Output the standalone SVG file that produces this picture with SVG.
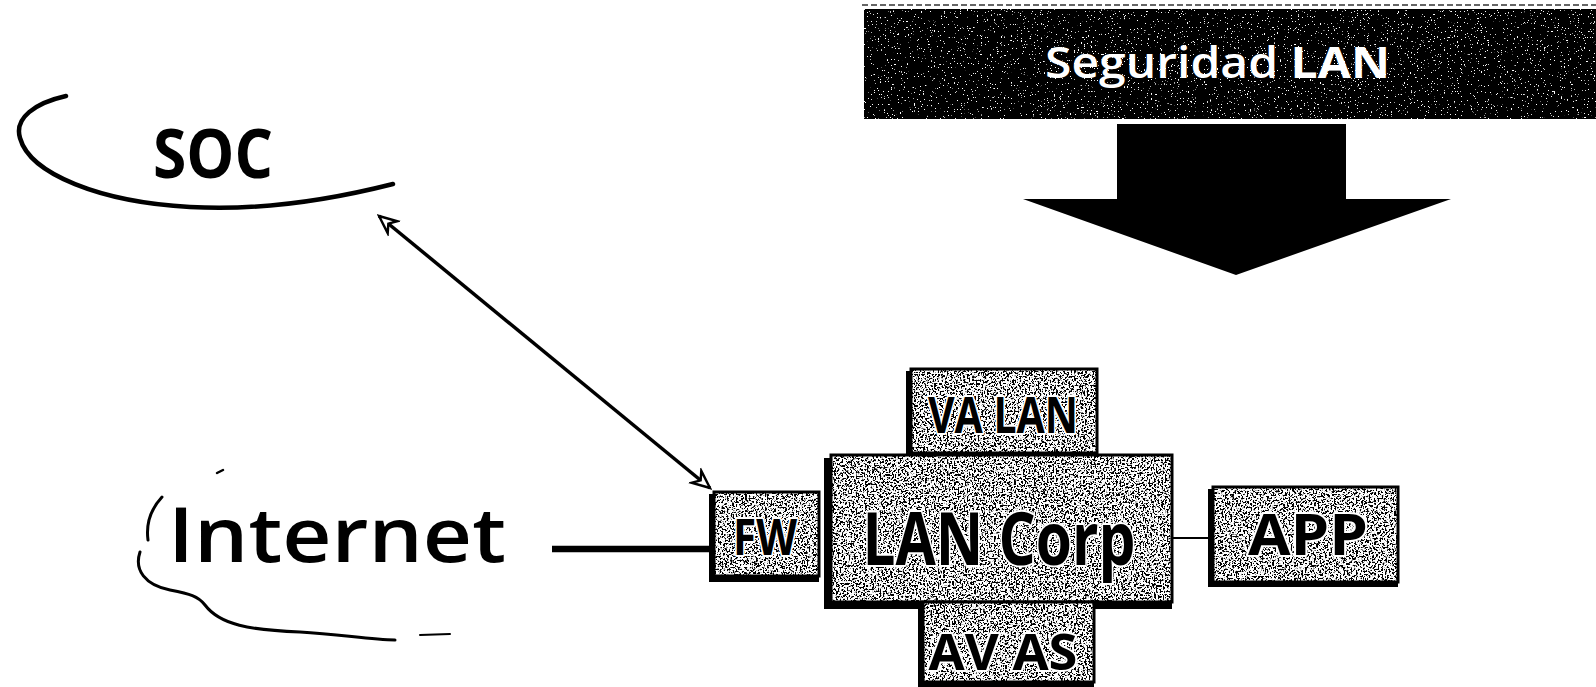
<svg xmlns="http://www.w3.org/2000/svg" width="1596" height="687" viewBox="0 0 1596 687">
  <style>
    .cloud { fill: none; stroke: #000; stroke-linecap: round; stroke-linejoin: round; }
    .tex { fill: #888; }
    .frame { fill: none; stroke: #000; stroke-width: 3; }
    .shadow { fill: #000; }
    .lbl { font-family: "Open Sans", "DejaVu Sans", sans-serif; font-weight: 700; fill: #000; stroke: #fff; stroke-width: 4; stroke-linejoin: round; paint-order: stroke; text-anchor: middle; }
    .big { font-family: "Open Sans", "DejaVu Sans", sans-serif; fill: #000; }
    .conn { fill: none; stroke: #000; }
  </style>
  <defs>
    <!-- black/white speckle used as block fill -->
    <filter id="grain" x="0" y="0" width="100%" height="100%">
      <feTurbulence type="fractalNoise" baseFrequency="0.55" numOctaves="2" seed="4" result="n"/>
      <feColorMatrix in="n" type="matrix" values="14 0 0 0 -6.1  14 0 0 0 -6.1  14 0 0 0 -6.1  0 0 0 0 1" result="bw"/>
      <feComposite in="bw" in2="SourceGraphic" operator="in"/>
    </filter>
    <!-- sparse light specks on the dark banner -->
    <filter id="grainDark" x="0" y="0" width="100%" height="100%">
      <feTurbulence type="fractalNoise" baseFrequency="0.7" numOctaves="2" seed="9" result="n"/>
      <feColorMatrix in="n" type="matrix" values="0 0 0 0 1  0 0 0 0 1  0 0 0 0 1  22 0 0 0 -15.2" result="specks"/>
      <feComposite in="specks" in2="SourceGraphic" operator="in" result="clip"/>
      <feMerge><feMergeNode in="SourceGraphic"/><feMergeNode in="clip"/></feMerge>
    </filter>
    <marker id="open" viewBox="0 0 20 20" refX="18" refY="10" markerWidth="22" markerHeight="22" markerUnits="userSpaceOnUse" orient="auto-start-reverse">
      <path d="M2 3 L18 10 L2 17 L7 10 Z" fill="#fff" stroke="#000" stroke-width="2.2" stroke-linejoin="miter"/>
    </marker>
  </defs>

  <rect width="1596" height="687" fill="#fff"/>

  <!-- header banner with its down arrow -->
  <g id="seguridad-lan">
    <line x1="862" y1="5" x2="1596" y2="5" stroke="#333" stroke-width="1.5" stroke-dasharray="6 3"/>
    <rect x="864" y="9" width="732" height="110" fill="#050505" filter="url(#grainDark)"/>
    <text x="1045" y="78" font-family="'Open Sans', 'DejaVu Sans', sans-serif" font-size="43" fill="#fff" textLength="345" lengthAdjust="spacingAndGlyphs"><tspan font-weight="600">Seguridad</tspan> <tspan font-weight="700">LAN</tspan></text>
  </g>
  <g id="down-arrow">
    <path d="M1117 124 L1346 124 L1346 199 L1451 199 L1236 275 L1023 199 L1117 199 Z" fill="#000"/>
  </g>

  <!-- clouds -->
  <g id="soc">
    <path class="cloud" stroke-width="4.5" d="M66 96 C35 103 14 118 20 138 C30 174 100 202 190 207 C260 211 330 200 393 184"/>
    <text class="big" x="153" y="178" font-size="68" font-weight="700" textLength="120" lengthAdjust="spacingAndGlyphs">SOC</text>
  </g>
  <g id="internet">
    <path class="cloud" stroke-width="2.5" d="M223 470 L217 473"/>
    <path class="cloud" stroke-width="3" d="M162 497 C150 510 146 525 148 540"/>
    <path class="cloud" stroke-width="3" d="M140 552 C134 570 145 585 170 590 C190 594 198 596 205 605 C220 625 250 630 300 632 C340 634 370 640 395 640"/>
    <path class="cloud" stroke-width="2" d="M420 635 L450 634"/>
    <text class="big" x="168" y="562" font-size="76" font-weight="600" textLength="338" lengthAdjust="spacingAndGlyphs">Internet</text>
  </g>

  <!-- connectors -->
  <g id="connectors">
    <line class="conn" x1="379" y1="216" x2="710" y2="488" stroke-width="3.5" marker-start="url(#open)" marker-end="url(#open)"/>
    <line class="conn" x1="552" y1="549" x2="712" y2="549" stroke-width="6.5"/>
    <line class="conn" x1="1172" y1="538" x2="1209" y2="538" stroke-width="1.8"/>
  </g>

  <!-- network blocks -->
  <g id="va-lan">
    <rect class="shadow" x="906" y="371" width="190" height="87"/>
    <rect class="tex" x="911" y="369" width="186" height="84" filter="url(#grain)"/>
    <rect class="frame" x="911" y="369" width="186" height="84"/>
    <text class="lbl" x="1003" y="433" font-size="50" textLength="150" lengthAdjust="spacingAndGlyphs">VA LAN</text>
  </g>
  <g id="fw">
    <rect class="shadow" x="709" y="494" width="110" height="88"/>
    <rect class="tex" x="714" y="492" width="105" height="84" filter="url(#grain)"/>
    <rect class="frame" x="714" y="492" width="105" height="84"/>
    <text class="lbl" x="765" y="555" font-size="50" textLength="64" lengthAdjust="spacingAndGlyphs">FW</text>
  </g>
  <g id="lan-corp">
    <rect class="shadow" x="824" y="458" width="348" height="151"/>
    <rect class="tex" x="831" y="455" width="341" height="147" filter="url(#grain)"/>
    <rect class="frame" x="831" y="455" width="341" height="147"/>
    <text class="lbl" x="999" y="565" font-size="74" textLength="273" lengthAdjust="spacingAndGlyphs">LAN Corp</text>
  </g>
  <g id="av-as">
    <rect class="shadow" x="918" y="604" width="176" height="83"/>
    <rect class="tex" x="923" y="602" width="171" height="80" filter="url(#grain)"/>
    <rect class="frame" x="923" y="602" width="171" height="80"/>
    <text class="lbl" x="1003" y="670" font-size="50" textLength="149" lengthAdjust="spacingAndGlyphs">AV AS</text>
  </g>
  <g id="app">
    <rect class="shadow" x="1208" y="489" width="190" height="98"/>
    <rect class="tex" x="1213" y="487" width="185" height="95" filter="url(#grain)"/>
    <rect class="frame" x="1213" y="487" width="185" height="95"/>
    <text class="lbl" x="1308" y="555" font-size="58" textLength="120" lengthAdjust="spacingAndGlyphs">APP</text>
  </g>
</svg>
